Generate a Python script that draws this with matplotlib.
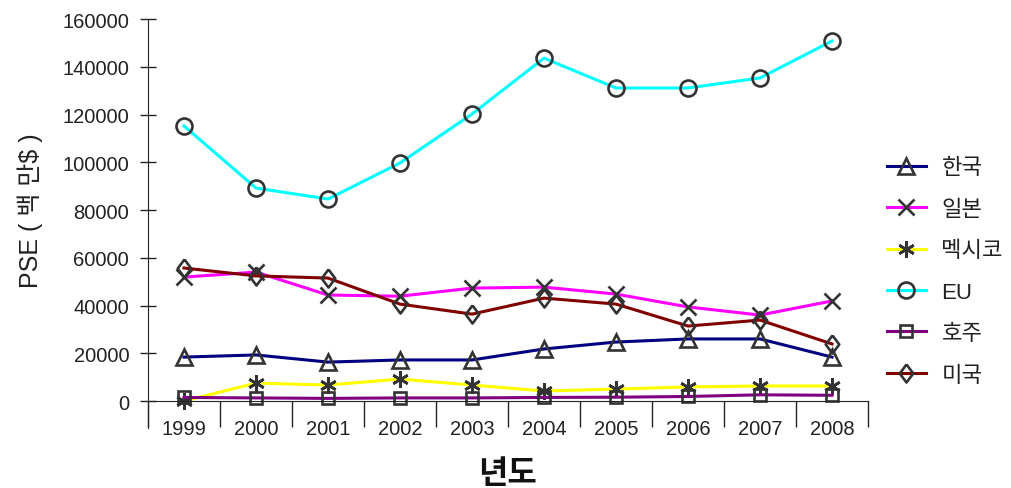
import matplotlib
matplotlib.use("Agg")
import matplotlib.pyplot as plt
from matplotlib.ticker import FixedLocator

plt.rcParams['font.family'] = ['Liberation Sans', 'Noto Sans CJK KR', 'DejaVu Sans']

years = ['1999', '2000', '2001', '2002', '2003', '2004', '2005', '2006', '2007', '2008']
korea = [18400, 19300, 16300, 17200, 17200, 21800, 24700, 26000, 26000, 18400]
japan = [51900, 54000, 44400, 43900, 47300, 47700, 44800, 39400, 36000, 41900]
mexico = [0, 7500, 6700, 9200, 6700, 4200, 5000, 5900, 6300, 6300]
eu = [115200, 89200, 84600, 99700, 120200, 143600, 131100, 131100, 135300, 150800]
australia = [1500, 1300, 1100, 1300, 1300, 1500, 1600, 1900, 2600, 2400]
usa = [55700, 52400, 51500, 40600, 36400, 43100, 40600, 31400, 33900, 23900]

names = ['한국', '일본', '멕시코', 'EU', '호주', '미국']
series = [korea, japan, mexico, eu, australia, usa]
colors = ['#000080', '#ff00ff', '#ffff00', '#00ffff', '#800080', '#800000']
diamond = [(0, 1), (0.75, 0), (0, -1), (-0.75, 0), (0, 1)]
markers = ['^', 'x', (6, 2, 0), 'o', 's', diamond]
msizes = [11, 11, 12, 11.5, 8, 13]

fig = plt.figure(figsize=(10.11, 4.89), dpi=100)
ax = fig.add_axes([148 / 1011, 1 - 429 / 489, 720 / 1011, 409 / 489])

x = list(range(len(years)))
for vals, name, c, m, ms in zip(series, names, colors, markers, msizes):
    ax.plot(x, vals, color=c, lw=2.2, marker=m, ms=ms, mfc='none',
            mec='#333333', mew=1.9, label=name)

ax.set_xlim(-0.5, 9.5)
ax.set_ylim(-11300, 160000)
ax.set_yticks(range(0, 160001, 20000))
ax.tick_params(axis='y', direction='inout', length=11, width=1, pad=8,
               labelsize=14.5, colors='#222222')

# x axis sits at zero, category separators hang below it
ax.spines['top'].set_visible(False)
ax.spines['right'].set_visible(False)
ax.spines['bottom'].set_position(('data', 0))
ax.spines['left'].set_color('#222222')
ax.spines['bottom'].set_color('#222222')
ax.xaxis.set_major_locator(FixedLocator([i - 0.5 for i in range(11)]))
ax.xaxis.set_minor_locator(FixedLocator(x))
ax.set_xticklabels([], minor=False)
ax.set_xticklabels(years, minor=True)
ax.tick_params(axis='x', which='major', direction='out', length=19, width=1,
               colors='#222222')
ax.tick_params(axis='x', which='minor', length=0, pad=13, labelsize=14.5,
               labelcolor='#222222')

fig.text(30 / 1011, 1 - 211 / 489, 'PSE ( 백 만$ )', rotation=90,
         ha='center', va='center', fontsize=18, color='#222222')
fig.text(507 / 1011, 1 - 475 / 489, '년도', ha='center', va='center',
         fontsize=23, fontweight='bold', color='#111111')

fig.legend(loc='center left', bbox_to_anchor=(887 / 1011, 1 - 272.5 / 489),
           bbox_transform=fig.transFigure, frameon=False, fontsize=16,
           handlelength=1.75, handletextpad=0.7, labelspacing=0.92,
           borderpad=0, borderaxespad=0, labelcolor='#222222')

fig.savefig('out.png', dpi=100)
